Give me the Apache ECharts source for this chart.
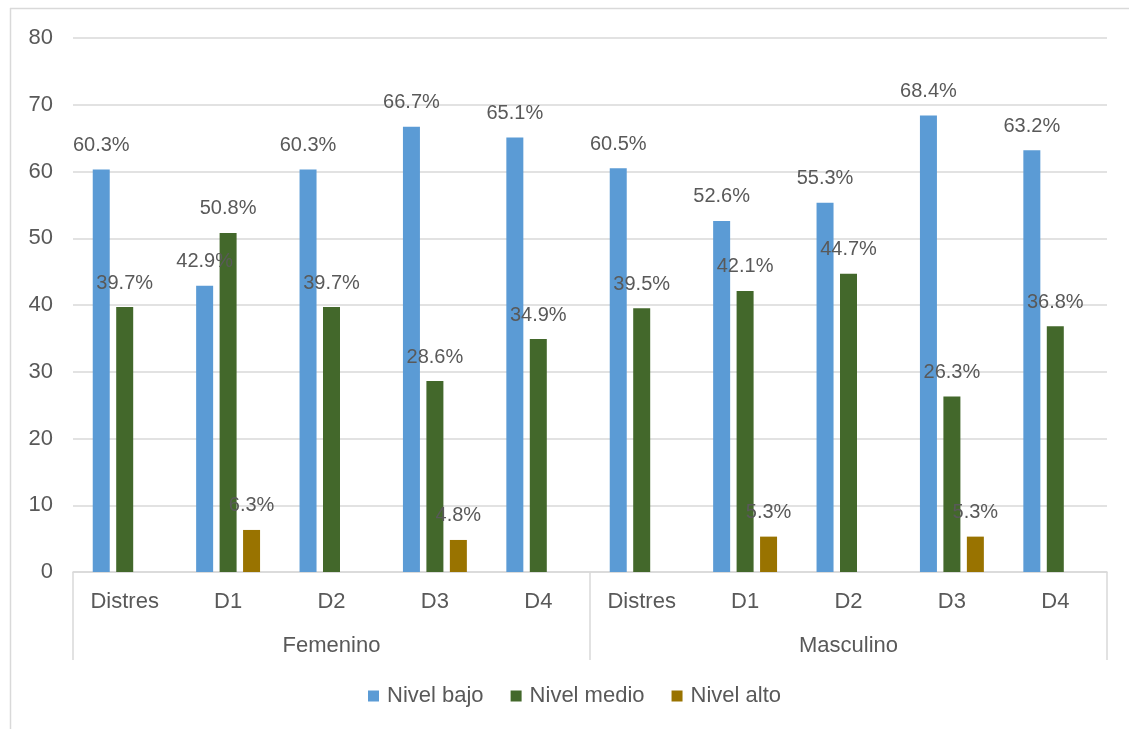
<!DOCTYPE html>
<html>
<head>
<meta charset="utf-8">
<script src="https://cdn.jsdelivr.net/npm/echarts@6/dist/echarts.min.js"></script>
<style>
html,body{margin:0;padding:0;background:#fff;}
#c{width:1129px;height:729px;}
</style>
</head>
<body>
<div id="c"></div>
<script>
const categories = ['Distres','D1','D2','D3','D4','Distres','D1','D2','D3','D4'];
const groups = ['Femenino','Masculino'];
const yTicks = [0,10,20,30,40,50,60,70,80];
const nivelBajo  = [60.3, 42.9, 60.3, 66.7, 65.1, 60.5, 52.6, 55.3, 68.4, 63.2];
const nivelMedio = [39.7, 50.8, 39.7, 28.6, 34.9, 39.5, 42.1, 44.7, 26.3, 36.8];
const nivelAlto  = [null, 6.3, null, 4.8, null, null, 5.3, null, 5.3, null];

const FONT = 'Liberation Sans';
const TXT = '#595959';
const chart = echarts.init(document.getElementById('c'));
const lbl = {
  show: true, position: 'top', distance: 14,
  fontFamily: FONT, fontSize: 20, color: TXT,
  formatter: p => (p.value == null ? '' : p.value.toFixed(1) + '%')
};
const mk = (name, data, color) => ({
  name, type: 'bar', data, barWidth: 17, barGap: '38%',
  itemStyle: { color }, label: lbl, xAxisIndex: 0
});
chart.setOption({
  animation: false,
  textStyle: { fontFamily: FONT },
  grid: { left: 73, right: 22, top: 38, bottom: 157 },
  graphic: [
    { type: 'line', shape: { x1: 10.5, y1: 8, x2: 10.5, y2: 729 }, style: { stroke: '#d9d9d9', lineWidth: 1.5 } },
    { type: 'line', shape: { x1: 10, y1: 8.5, x2: 1129, y2: 8.5 }, style: { stroke: '#d9d9d9', lineWidth: 1.5 } }
  ],
  legend: {
    bottom: 17, left: 363, itemWidth: 11, itemHeight: 11, itemGap: 27,
    icon: 'rect',
    textStyle: { fontFamily: FONT, fontSize: 22, color: TXT, padding: [0, 0, 0, 3] },
    data: ['Nivel bajo', 'Nivel medio', 'Nivel alto']
  },
  xAxis: [
    {
      type: 'category', data: categories, position: 'bottom',
      axisLine: { show: true, lineStyle: { color: '#d9d9d9', width: 1.5 } },
      axisTick: { show: false },
      axisLabel: { fontFamily: FONT, fontSize: 22, color: TXT, margin: 19, interval: 0 }
    },
    {
      type: 'category', data: groups, position: 'bottom',
      axisLine: { show: false },
      axisTick: { show: true, length: 88, alignWithLabel: false, lineStyle: { color: '#d9d9d9', width: 1.5 } },
      axisLabel: { fontFamily: FONT, fontSize: 22, color: TXT, margin: 63 },
      splitLine: { show: false }
    }
  ],
  yAxis: {
    type: 'value', min: yTicks[0], max: yTicks[yTicks.length - 1], interval: 10,
    axisLine: { show: false }, axisTick: { show: false },
    axisLabel: { fontFamily: FONT, fontSize: 22, color: TXT, margin: 20 },
    splitLine: { lineStyle: { color: '#d9d9d9', width: 1.5 } }
  },
  series: [
    mk('Nivel bajo', nivelBajo, '#5B9BD5'),
    mk('Nivel medio', nivelMedio, '#43682B'),
    mk('Nivel alto', nivelAlto, '#997300')
  ]
});
</script>
</body>
</html>
